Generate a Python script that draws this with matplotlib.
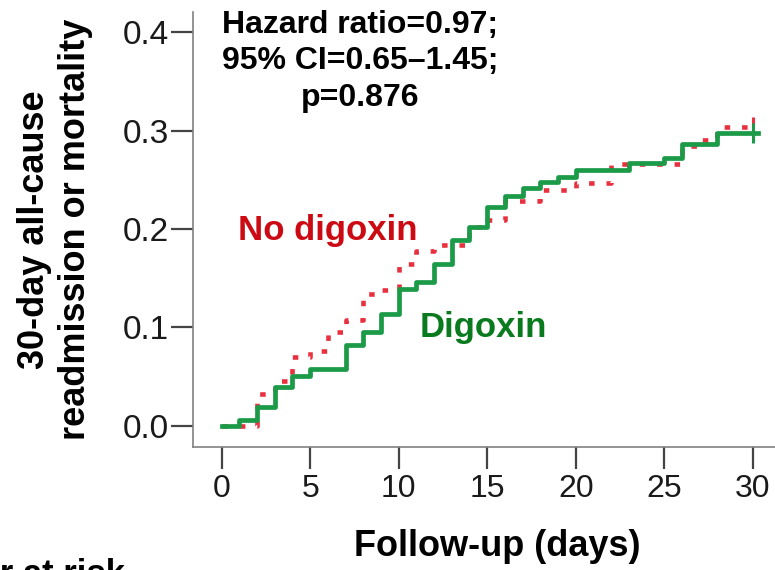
import matplotlib
matplotlib.use('agg')
from matplotlib import pyplot as plt

plt.rcParams['font.family'] = ['Liberation Sans', 'DejaVu Sans']

# Kaplan-Meier style cumulative risk
dig_days = [0, 1, 2, 3, 4, 5, 7, 8, 9, 10, 11, 12, 13, 14, 15, 16, 17, 18, 19, 20, 23, 25, 26, 28]
dig_risk = [0, 0.006, 0.019, 0.039, 0.050, 0.058, 0.082, 0.095, 0.114, 0.139, 0.146, 0.164,
            0.189, 0.202, 0.222, 0.234, 0.242, 0.248, 0.253, 0.260, 0.267, 0.272, 0.286, 0.298]

nodig_days = [0, 2, 3, 4, 5, 6, 7, 8, 9, 10, 11, 12, 14, 15, 16, 18, 20, 22, 26, 27, 28]
nodig_risk = [0, 0.032, 0.045, 0.070, 0.076, 0.095, 0.107, 0.134, 0.138, 0.164, 0.178, 0.184,
              0.202, 0.209, 0.228, 0.240, 0.247, 0.266, 0.284, 0.291, 0.304]

end_day = 30.3
censor_day = 30
x_ticks = [0, 5, 10, 15, 20, 25, 30]
y_ticks = [0.0, 0.1, 0.2, 0.3, 0.4]

stats_text = 'Hazard ratio=0.97;\n95% CI=0.65\u20131.45;\np=0.876'

fig = plt.figure(figsize=(7.75, 5.7), dpi=100)
ax = fig.add_axes([0.2486, 0.2163, 0.7514, 0.7632])

# No digoxin: red dotted step line
ax.step(nodig_days + [end_day], nodig_risk + [nodig_risk[-1]], where='post',
        color='#e8303e', lw=3.3, linestyle=(0, (1.2, 2.6)), dash_capstyle='butt')
# Digoxin: green solid step line
ax.step(dig_days + [end_day], dig_risk + [dig_risk[-1]], where='post',
        color='#1b9a48', lw=3.4)

# censor marks
ax.plot([censor_day], [nodig_risk[-1]], marker='|', ms=15, mew=2.2, color='#e8303e')
ax.plot([censor_day], [dig_risk[-1]], marker='|', ms=15, mew=2.2, color='#1b9a48')

ax.set_xlim(-1.64, 31.26)
ax.set_ylim(-0.0214, 0.421)
ax.set_xticks(x_ticks)
ax.set_yticks(y_ticks)
ax.set_yticklabels([f'{v:.1f}' for v in y_ticks])

for s in ['top', 'right']:
    ax.spines[s].set_visible(False)
for s in ['left', 'bottom']:
    ax.spines[s].set_color('#808080')
    ax.spines[s].set_linewidth(1.2)

ax.tick_params(axis='both', direction='out', length=16, width=1.6, color='#444444',
               labelcolor='#1a1a1a')
ax.tick_params(axis='y', pad=1, labelsize=24)
ax.tick_params(axis='x', pad=4, labelsize=23)

ax.set_xlabel('Follow-up (days)', fontsize=26, fontweight='bold')
ax.xaxis.set_label_coords(0.5226, -0.19)
ax.set_ylabel('30-day all-cause\nreadmission or mortality', fontsize=26,
              fontweight='bold', linespacing=1.22)
ax.yaxis.set_label_coords(-0.172, 0.5)

ax.text(7.81, 0.423, stats_text, ha='center', va='top', fontsize=23,
        fontweight='bold', linespacing=1.28)
ax.text(0.92, 0.189, 'No digoxin', ha='left', va='baseline', fontsize=25,
        fontweight='bold', color='#cc0a14')
ax.text(11.2, 0.090, 'Digoxin', ha='left', va='baseline', fontsize=25,
        fontweight='bold', color='#0a7a1e')

# cropped row header at the bottom edge of the original
fig.text(0.161, 0.021, 'Number at risk', ha='right', va='top', fontsize=25,
         fontweight='bold')

plt.savefig('out.png', dpi=100)
